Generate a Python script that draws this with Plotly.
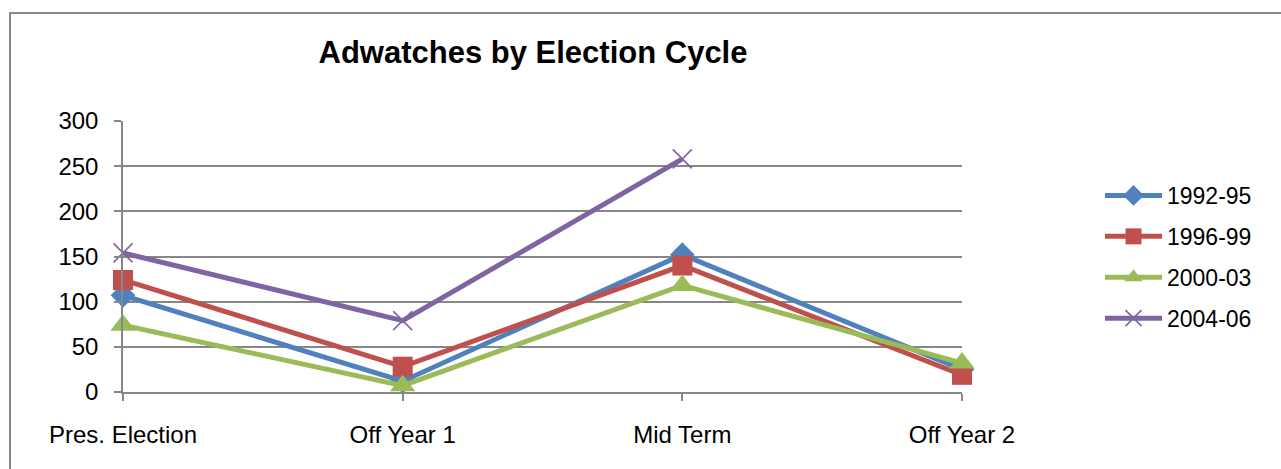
import plotly.graph_objects as go

categories = ["Pres. Election", "Off Year 1", "Mid Term", "Off Year 2"]
s1992 = [107, 12, 152, 25]
s1996 = [124, 28, 140, 19]
s2000 = [74, 7, 118, 32]
s2004 = [154, 79, 258, None]
y_ticks = [0, 50, 100, 150, 200, 250, 300]

series = [
    ("1992-95", s1992, "#4F81BD", dict(symbol="diamond", size=19)),
    ("1996-99", s1996, "#C0504D", dict(symbol="square", size=20)),
    ("2000-03", s2000, "#9BBB59", dict(symbol="triangle-up", size=22)),
    ("2004-06", s2004, "#8064A2", dict(symbol="x-thin", size=19)),
]

fig = go.Figure()
for i, (name, vals, color, mk) in enumerate(series):
    marker = dict(color=color, **mk)
    if mk["symbol"] == "x-thin":
        marker["line"] = dict(color=color, width=1.6)
    else:
        marker["line"] = dict(width=0)
    fig.add_trace(go.Scatter(
        x=list(range(len(categories))), y=vals, name=name, mode="lines+markers",
        line=dict(color=color, width=5), marker=marker, cliponaxis=False,
        legendgroup=name, connectgaps=False,
    ))

L, R, T, B = 123, 319, 121, 77
W, H = 1281, 469
pw, ph = W - L - R, H - T - B

def px(x):
    return (x - L) / pw

def py(y):
    return (H - B - y) / ph

fig.update_layout(
    width=W, height=H,
    margin=dict(l=L, r=R, t=T, b=B, pad=0),
    paper_bgcolor="white", plot_bgcolor="white",
    font=dict(family="Liberation Sans, Arial, sans-serif", size=24, color="black"),
    title=dict(text="<b>Adwatches by Election Cycle</b>", xref="container", yref="container",
               x=533 / W, xanchor="center", y=1 - 52 / H, yanchor="middle",
               font=dict(size=31, color="black")),
    showlegend=True,
    legend=dict(x=px(1100), xanchor="left", y=py(174), yanchor="top",
                traceorder="grouped", tracegroupgap=8, itemwidth=57,
                font=dict(size=23), bgcolor="rgba(0,0,0,0)"),
    xaxis=dict(
        range=[0, 3], tickmode="array", tickvals=list(range(len(categories))),
        ticktext=categories, showgrid=False, zeroline=False,
        showline=True, linecolor="#878787", linewidth=1.5,
        ticks="outside", ticklen=7, tickcolor="#878787", tickwidth=1.5,
        ticklabelstandoff=13,
    ),
    yaxis=dict(
        range=[0, 300], tickvals=y_ticks, showgrid=True, gridcolor="#878787", gridwidth=1.5,
        zeroline=False, showline=True, linecolor="#878787", linewidth=1.5,
        ticks="outside", ticklen=7, tickcolor="#878787", tickwidth=1.5,
        ticklabelstandoff=11,
    ),
    shapes=[dict(type="rect", xref="paper", yref="paper",
                 x0=px(10), x1=px(1300), y0=py(490), y1=py(13),
                 line=dict(color="#878787", width=2), fillcolor="rgba(0,0,0,0)", layer="below")],
)

fig.write_html("out.html")
